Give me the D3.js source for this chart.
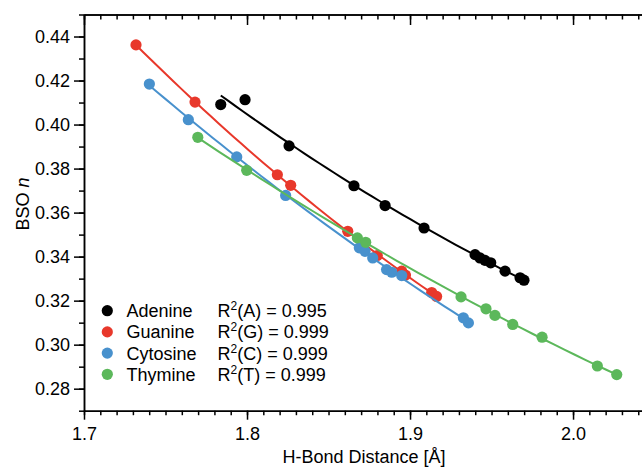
<!DOCTYPE html>
<html>
<head>
<meta charset="utf-8">
<script src="https://cdn.jsdelivr.net/npm/d3@7"></script>
<style>
  body { margin: 0; background: #fff; }
  text { font-family: "Liberation Sans", Arial, Helvetica, sans-serif; }
</style>
</head>
<body>
<svg width="642" height="470"></svg>
<script>
// data
var adenineX = [1.7839, 1.7988, 1.8258, 1.8656, 1.8847, 1.9086, 1.9399, 1.9429, 1.9460, 1.9495, 1.9583, 1.9675, 1.9699];
var adenineY = [0.4091, 0.4113, 0.3903, 0.3722, 0.3632, 0.3530, 0.3409, 0.3394, 0.3383, 0.3372, 0.3334, 0.3304, 0.3293];

var guanineX = [1.7319, 1.7681, 1.8186, 1.8268, 1.8618, 1.8799, 1.8949, 1.8972, 1.9133, 1.9163];
var guanineY = [0.4362, 0.4102, 0.3772, 0.3724, 0.3515, 0.3405, 0.3334, 0.3316, 0.3237, 0.3219];

var cytosineX = [1.7401, 1.7640, 1.7937, 1.8237, 1.8689, 1.8724, 1.8771, 1.8856, 1.8888, 1.8949, 1.9327, 1.9358];
var cytosineY = [0.4184, 0.4022, 0.3853, 0.3678, 0.3440, 0.3424, 0.3394, 0.3341, 0.3329, 0.3314, 0.3122, 0.3099];

var thymineX = [1.7698, 1.7998, 1.8677, 1.8728, 1.9313, 1.9466, 1.9521, 1.9630, 1.9810, 2.0149, 2.0268];
var thymineY = [0.3942, 0.3792, 0.3485, 0.3465, 0.3217, 0.3163, 0.3133, 0.3092, 0.3034, 0.2903, 0.2864];

var names = ["Adenine", "Guanine", "Cytosine", "Thymine"];
var r2Keys = ["A", "G", "C", "T"];
var r2Values = ["0.995", "0.999", "0.999", "0.999"];
var colors = ["#000000", "#e8382b", "#4891cd", "#5cb85b"];

var xMajor = [1.7, 1.8, 1.9, 2.0];
var yMajor = [0.28, 0.30, 0.32, 0.34, 0.36, 0.38, 0.40, 0.42, 0.44];

var series = [
  {x: adenineX, y: adenineY},
  {x: guanineX, y: guanineY},
  {x: cytosineX, y: cytosineY},
  {x: thymineX, y: thymineY}
];

// plot box edges
var boxLeft = 84, boxTop = 14.5, boxRight = 642, boxBottom = 410.7;

var svg = d3.select("svg");

var x = d3.scaleLinear().domain([1.7, 2.0423]).range([boxLeft, boxRight]);
var y = d3.scaleLinear().domain([0.27, 0.45]).range([boxBottom, boxTop]);

var xMinor = d3.range(170, 205).map(function(d) { return d / 100; });
var yMinor = d3.range(27, 46).map(function(d) { return d / 100; });

// minor ticks first, then major ticks with labels
svg.append("g")
    .attr("transform", "translate(0," + boxBottom + ")")
    .call(d3.axisBottom(x).tickValues(xMinor).tickSize(4.5).tickSizeOuter(0).tickFormat(""));
svg.append("g")
    .attr("transform", "translate(0," + boxBottom + ")")
    .call(d3.axisBottom(x).tickValues(xMajor).tickSize(9).tickSizeOuter(0).tickPadding(8).tickFormat(d3.format(".1f")));

svg.append("g")
    .attr("transform", "translate(0," + boxTop + ")")
    .call(d3.axisTop(x).tickValues(xMinor).tickSize(-5).tickSizeOuter(0).tickFormat(""));
svg.append("g")
    .attr("transform", "translate(0," + boxTop + ")")
    .call(d3.axisTop(x).tickValues(xMajor).tickSize(-10.5).tickSizeOuter(0).tickFormat(""));

svg.append("g")
    .attr("transform", "translate(" + boxLeft + ",0)")
    .call(d3.axisLeft(y).tickValues(yMinor).tickSize(5).tickSizeOuter(0).tickFormat(""));
svg.append("g")
    .attr("transform", "translate(" + boxLeft + ",0)")
    .call(d3.axisLeft(y).tickValues(yMajor).tickSize(10).tickSizeOuter(0).tickPadding(4).tickFormat(d3.format(".2f")));

svg.selectAll(".domain, .tick line")
    .attr("stroke", "#000")
    .attr("stroke-width", 1.5);
svg.selectAll(".tick text")
    .attr("fill", "#000")
    .style("font-size", "18px");

// axis titles
svg.append("text")
    .attr("x", (boxLeft + boxRight) / 2 + 1)
    .attr("y", 463)
    .attr("text-anchor", "middle")
    .style("font-size", "18px")
    .text("H-Bond Distance [Å]");

var yt = svg.append("text")
    .attr("transform", "translate(29,204) rotate(-90)")
    .attr("text-anchor", "middle")
    .style("font-size", "18px");
yt.append("tspan").text("BSO ");
yt.append("tspan").style("font-style", "italic").text("n");

// quadratic least-squares fit through each series
function quadFit(xs, ys) {
  var mx = d3.mean(xs);
  var S = [[0, 0, 0], [0, 0, 0], [0, 0, 0]], b = [0, 0, 0];
  xs.forEach(function(xv, i) {
    var t = xv - mx, p = [1, t, t * t];
    for (var j = 0; j < 3; j++) {
      for (var k = 0; k < 3; k++) S[j][k] += p[j] * p[k];
      b[j] += p[j] * ys[i];
    }
  });
  // gaussian elimination
  for (var c = 0; c < 3; c++) {
    for (var r = c + 1; r < 3; r++) {
      var f = S[r][c] / S[c][c];
      for (var k = c; k < 3; k++) S[r][k] -= f * S[c][k];
      b[r] -= f * b[c];
    }
  }
  var co = [0, 0, 0];
  for (var r = 2; r >= 0; r--) {
    var s = b[r];
    for (var k = r + 1; k < 3; k++) s -= S[r][k] * co[k];
    co[r] = s / S[r][r];
  }
  return function(xv) { var t = xv - mx; return co[0] + co[1] * t + co[2] * t * t; };
}

var line = d3.line()
    .x(function(d) { return x(d[0]); })
    .y(function(d) { return y(d[1]); });

series.forEach(function(s, i) {
  var fit = quadFit(s.x, s.y);
  var x0 = d3.min(s.x), x1 = d3.max(s.x);
  var pts = d3.range(0, 41).map(function(k) {
    var xv = x0 + (x1 - x0) * k / 40;
    return [xv, fit(xv)];
  });
  svg.append("path")
      .attr("d", line(pts))
      .attr("fill", "none")
      .attr("stroke", colors[i])
      .attr("stroke-width", 2);

  svg.append("g").selectAll("circle")
      .data(s.x)
      .join("circle")
      .attr("cx", function(d) { return x(d); })
      .attr("cy", function(d, j) { return y(s.y[j]); })
      .attr("r", 5.6)
      .attr("fill", colors[i]);
});

// legend
var legend = svg.append("g");
names.forEach(function(n, i) {
  var cy = 310.7 + i * 21.2;
  legend.append("circle")
      .attr("cx", 107.3)
      .attr("cy", cy)
      .attr("r", 5.6)
      .attr("fill", colors[i]);
  legend.append("text")
      .attr("x", 126.5)
      .attr("y", cy + 6.4)
      .style("font-size", "18px")
      .text(n);
  var t = legend.append("text")
      .attr("x", 217.5)
      .attr("y", cy + 6.4)
      .style("font-size", "18px");
  t.append("tspan").text("R");
  t.append("tspan").attr("dy", -7).style("font-size", "12px").text("2");
  t.append("tspan").attr("dy", 7).text("(" + r2Keys[i] + ") = " + r2Values[i]);
});
</script>
</body>
</html>
